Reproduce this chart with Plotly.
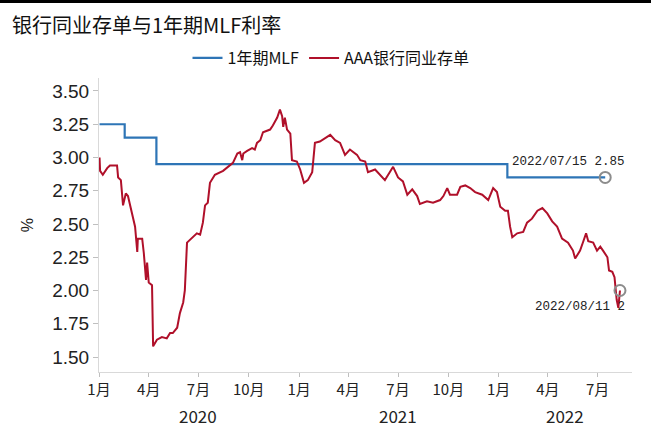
import plotly.graph_objects as go

# ---------------- data ----------------
mlf_dates = ["2020-01-02", "2020-02-17", "2020-04-15", "2022-01-17", "2022-07-15"]
mlf_values = [3.25, 3.15, 2.95, 2.85, 2.85]

ncd_dates = [
    "2020-01-02", "2020-01-03", "2020-01-08", "2020-01-16", "2020-01-21", "2020-02-03", "2020-02-05",
    "2020-02-10", "2020-02-14", "2020-02-19", "2020-02-23", "2020-03-01", "2020-03-07", "2020-03-11",
    "2020-03-12", "2020-03-20", "2020-03-23", "2020-03-27", "2020-03-29", "2020-04-01", "2020-04-07",
    "2020-04-09", "2020-04-16", "2020-04-25", "2020-05-04", "2020-05-10", "2020-05-15", "2020-05-23",
    "2020-05-28", "2020-06-03", "2020-06-06", "2020-06-10", "2020-06-21", "2020-06-28", "2020-07-04",
    "2020-07-09", "2020-07-13", "2020-07-18", "2020-07-22", "2020-07-31", "2020-08-15", "2020-08-24",
    "2020-09-02", "2020-09-10", "2020-09-15", "2020-09-19", "2020-09-21", "2020-09-28", "2020-10-07",
    "2020-10-12", "2020-10-16", "2020-10-22", "2020-10-27", "2020-11-09", "2020-11-14", "2020-11-22",
    "2020-11-27", "2020-12-01", "2020-12-03", "2020-12-06", "2020-12-10", "2020-12-16", "2020-12-19",
    "2020-12-28", "2021-01-03", "2021-01-10", "2021-01-17", "2021-01-25", "2021-01-30", "2021-02-08",
    "2021-02-21", "2021-02-27", "2021-03-08", "2021-03-17", "2021-03-26", "2021-04-04", "2021-04-17",
    "2021-04-23", "2021-05-02", "2021-05-07", "2021-05-20", "2021-05-29", "2021-06-07", "2021-06-13",
    "2021-06-22", "2021-07-01", "2021-07-10", "2021-07-18", "2021-07-27", "2021-08-05", "2021-08-10",
    "2021-08-23", "2021-09-03", "2021-09-16", "2021-09-22", "2021-09-29", "2021-10-04", "2021-10-17",
    "2021-10-23", "2021-11-01", "2021-11-10", "2021-11-19", "2021-12-02", "2021-12-13", "2021-12-22",
    "2021-12-29", "2022-01-04", "2022-01-13", "2022-01-18", "2022-01-22", "2022-01-26", "2022-02-04",
    "2022-02-15", "2022-02-22", "2022-03-03", "2022-03-13", "2022-03-22", "2022-03-31", "2022-04-09",
    "2022-04-18", "2022-04-27", "2022-05-08", "2022-05-17", "2022-05-21", "2022-05-30", "2022-06-05",
    "2022-06-10", "2022-06-14", "2022-06-23", "2022-06-30", "2022-07-06", "2022-07-11", "2022-07-19",
    "2022-07-22", "2022-07-28", "2022-08-01", "2022-08-02", "2022-08-05", "2022-08-08", "2022-08-10",
    "2022-08-11",
]
ncd_values = [
    3.00, 2.90, 2.87, 2.92, 2.94, 2.94, 2.85,
    2.83, 2.64, 2.73, 2.71, 2.59, 2.48, 2.29,
    2.39, 2.39, 2.28, 2.08, 2.21, 2.06, 2.04,
    1.58, 1.63, 1.65, 1.64, 1.68, 1.68, 1.72,
    1.83, 1.91, 2.00, 2.36, 2.40, 2.43, 2.42,
    2.51, 2.64, 2.66, 2.81, 2.87, 2.90, 2.93,
    2.96, 3.03, 3.04, 2.98, 3.03, 3.05, 3.07,
    3.06, 3.11, 3.13, 3.19, 3.21, 3.24, 3.30,
    3.36, 3.31, 3.23, 3.30, 3.21, 3.18, 2.98,
    2.97, 2.91, 2.81, 2.83, 2.89, 3.11, 3.12,
    3.15, 3.17, 3.13, 3.11, 3.02, 3.06, 3.02,
    2.98, 2.97, 2.89, 2.91, 2.87, 2.83, 2.87,
    2.93, 2.85, 2.82, 2.72, 2.76, 2.71, 2.65,
    2.67, 2.66, 2.68, 2.71, 2.77, 2.72, 2.72,
    2.78, 2.79, 2.77, 2.74, 2.72, 2.68, 2.77,
    2.74, 2.63, 2.60, 2.60, 2.48, 2.40, 2.43,
    2.44, 2.51, 2.54, 2.60, 2.62, 2.58, 2.52,
    2.48, 2.39, 2.36, 2.30, 2.24, 2.30, 2.37,
    2.43, 2.37, 2.36, 2.30, 2.33, 2.30, 2.25,
    2.15, 2.14, 2.10, 2.06, 1.93, 1.87, 1.95,
    2.00,
]

x_tick_vals = ["2020-01-01", "2020-04-01", "2020-07-01", "2020-10-01",
               "2021-01-01", "2021-04-01", "2021-07-01", "2021-10-01",
               "2022-01-01", "2022-04-01", "2022-07-01"]
x_tick_text = ["1月", "4月", "7月", "10月", "1月", "4月", "7月", "10月", "1月", "4月", "7月"]
year_labels = ["2020", "2021", "2022"]
year_label_pos = ["2020-07-01", "2021-07-01", "2022-05-02"]
y_tick_vals = [1.50, 1.75, 2.00, 2.25, 2.50, 2.75, 3.00, 3.25, 3.50]

title_text = "银行同业存单与1年期MLF利率"
mlf_name = "1年期MLF"
ncd_name = "AAA银行同业存单"

# ---------------- styling ----------------
BLUE = "#2e75b6"
RED = "#b0102a"
GRAY = "#8c8c8c"
CJK = "Noto Sans CJK SC"
W, H = 651, 429
L, R, T, B = 99, 19, 78, 57
pw, ph = W - L - R, H - T - B

fig = go.Figure()
fig.add_trace(go.Scatter(x=mlf_dates, y=mlf_values, mode="lines", name=mlf_name,
                         line=dict(color=BLUE, width=2.2, shape="hv")))
fig.add_trace(go.Scatter(x=ncd_dates, y=ncd_values, mode="lines", name=ncd_name,
                         line=dict(color=RED, width=2)))
# end-point markers
fig.add_trace(go.Scatter(x=[mlf_dates[-1]], y=[mlf_values[-1]], mode="markers", showlegend=False,
                         marker=dict(symbol="circle-open", size=11, color=GRAY, line=dict(width=2, color=GRAY))))
fig.add_trace(go.Scatter(x=[ncd_dates[-1]], y=[ncd_values[-1]], mode="markers", showlegend=False,
                         marker=dict(symbol="circle-open", size=11, color=GRAY, line=dict(width=2, color=GRAY))))

annos = []
for lab, pos in zip(year_labels, year_label_pos):
    annos.append(dict(x=pos, y=0, xref="x", yref="paper", text=lab, showarrow=False,
                      yanchor="middle", xanchor="center", yshift=-43,
                      font=dict(family=CJK, size=17, color="#222")))
annos.append(dict(x=mlf_dates[-1], y=mlf_values[-1], xref="x", yref="y",
                  text=f"2022/07/15 {mlf_values[-1]:.2f}", showarrow=False,
                  xanchor="right", yanchor="middle", xshift=22, yshift=15,
                  font=dict(family="Liberation Mono", size=12.5, color="#222")))
annos.append(dict(x=ncd_dates[-1], y=ncd_values[-1], xref="x", yref="y",
                  text=f"2022/08/11 {ncd_values[-1]:g}", showarrow=False,
                  xanchor="right", yanchor="middle", xshift=7, yshift=-16,
                  font=dict(family="Liberation Mono", size=12.5, color="#222")))
annos.append(dict(x=-(L - 10) / pw, y=1 + (T - 25) / ph, xref="paper", yref="paper",
                  text=title_text, showarrow=False, xanchor="left", yanchor="middle",
                  font=dict(family=CJK, size=20, color="#111")))

shapes = [dict(type="rect", xref="paper", yref="paper",
               x0=-L / pw, x1=(W - L) / pw, y0=1 + (T - 3) / ph, y1=1 + T / ph,
               fillcolor="black", line=dict(width=0), layer="above")]

fig.update_layout(
    width=W, height=H,
    margin=dict(l=L, r=R, t=T, b=B),
    paper_bgcolor="white", plot_bgcolor="white",
    showlegend=True,
    legend=dict(orientation="h", x=(331 - L) / pw, xanchor="center", y=1 + (T - 58) / ph, yanchor="middle",
                font=dict(family=CJK, size=16, color="#111"), itemwidth=30,
                bgcolor="rgba(0,0,0,0)", tracegroupgap=0),
    annotations=annos,
    shapes=shapes,
    xaxis=dict(type="date", range=["2020-01-01", "2022-09-02"],
               tickmode="array", tickvals=x_tick_vals, ticktext=x_tick_text,
               showline=True, linecolor="#d9d9d9", linewidth=1,
               ticks="outside", ticklen=4, tickcolor="#bfbfbf",
               showgrid=False, zeroline=False,
               tickfont=dict(family=CJK, size=15, color="#222")),
    yaxis=dict(range=[1.3872, 3.5977], tickmode="array", tickvals=y_tick_vals,
               tickformat=".2f",
               showline=True, linecolor="#d9d9d9", linewidth=1,
               ticks="outside", ticklen=5, tickcolor="#bfbfbf",
               showgrid=False, zeroline=False,
               tickfont=dict(family="Liberation Sans", size=19, color="#222"),
               title=dict(text="%", standoff=14, font=dict(family="Liberation Sans", size=16, color="#222"))),
)

fig.write_html("out.html")
